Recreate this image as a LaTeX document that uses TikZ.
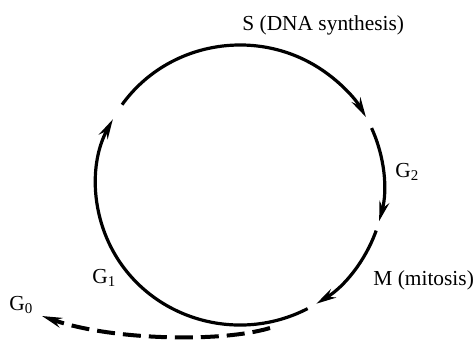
\documentclass[tikz,border=0pt]{standalone}
\usepackage{fontspec}
\setmainfont{Liberation Serif}
\usetikzlibrary{arrows.meta, positioning}

\begin{document}
\begin{tikzpicture}[x=0.5pt, y=0.5pt,
    ph/.style={line width=1.6pt, -{Stealth[length=10pt, width=5pt]}},
    lb/.style={font=\fontsize{10.7}{13}\selectfont, inner sep=0pt, anchor=base west},
]
\useasboundingbox (0,0) rectangle (475,339);
\coordinate (c) at (240,154);
% cycle phases
\draw[ph] ([shift={(145:144 and 140)}]c) arc[start angle=145, end angle=29, x radius=144, y radius=140];
\draw[ph] ([shift={(24:144 and 140)}]c) arc[start angle=24, end angle=-15, x radius=144, y radius=140];
\draw[ph] ([shift={(-19:144 and 140)}]c) arc[start angle=-19, end angle=-58, x radius=144, y radius=140];
\draw[ph] ([shift={(-62:144 and 140)}]c) arc[start angle=-62, end angle=-208, x radius=144, y radius=140];
% exit to G0
\coordinate (g0s) at (270,11);
\coordinate (g0e) at (42,23);
\draw[ph, line width=2pt, dash pattern=on 9pt off 4pt] (g0s) .. controls (220,-4) and (110,-1) .. (g0e);
% labels
\node[lb] (s) at (242,309) {S (DNA synthesis)};
\node[lb] (g2) at (395,162) {G\textsubscript{2}};
\node[lb] (m) at (373,54) {M (mitosis)};
\node[lb] (g1) at (92,56) {G\textsubscript{1}};
\node[lb] (g0) at (9,29) {G\textsubscript{0}};
\end{tikzpicture}
\end{document}
